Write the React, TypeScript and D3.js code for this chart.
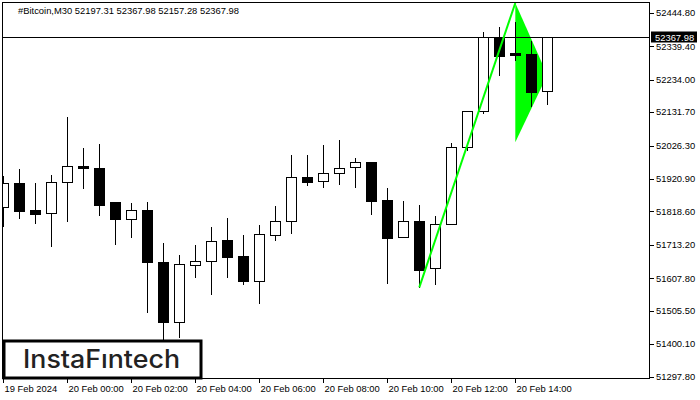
import React from 'react';
import * as d3 from 'd3';

// ---------- data ----------
const symbolLabel = '#Bitcoin,M30';
const startTime = Date.UTC(2024, 1, 19, 22, 0); // first visible 30-min bar
const barMinutes = 30;

const opens = [51831.6, 51908.3, 51823.1, 51814.6, 51910.5, 51961.9, 51955.6, 51848.4, 51795.7, 51823.1,
  51658.1, 51468.8, 51650.5, 51661.3, 51728.5, 51678.0, 51600.0, 51743.3, 51787.5, 51927.2,
  51915.6, 51938.9, 51957.8, 51974.6, 51854.7, 51737.0, 51788.4, 51639.2, 51777.9, 52020.9,
  52134.5, 52370.0, 52317.5, 52315.3, 52197.31];
const highs = [51933.5, 51955.6, 51912.4, 51936.7, 52119.7, 52021.9, 52034.5, 51848.4, 51848.4, 51852.5,
  51722.2, 51684.3, 51715.8, 51771.7, 51801.0, 51747.4, 51778.9, 51838.9, 52000.0, 52000.0,
  52031.3, 52047.1, 51990.3, 51977.7, 51895.7, 51854.7, 51842.0, 51807.3, 52037.7, 52139.6,
  52387.9, 52403.6, 52419.4, 52359.5, 52367.98];
const lows = [51773.6, 51798.8, 51783.0, 51710.5, 51789.3, 51893.5, 51808.3, 51716.8, 51738.9, 51500.4,
  51397.2, 51421.5, 51612.7, 51559.0, 51612.7, 51590.6, 51530.6, 51729.4, 51751.5, 51902.0,
  51896.6, 51906.1, 51896.6, 51811.4, 51593.7, 51737.0, 51579.2, 51590.6, 51777.9, 52013.4,
  52129.2, 52250.0, 52295.4, 52152.2, 52157.28];
const closes = [51907.4, 51820.9, 51811.4, 51911.5, 51961.9, 51955.6, 51839.8, 51795.7, 51823.1, 51660.0,
  51468.8, 51651.8, 51661.3, 51724.3, 51675.8, 51600.0, 51746.4, 51788.4, 51926.3, 51912.4,
  51939.9, 51954.7, 51973.6, 51852.5, 51735.7, 51788.4, 51634.8, 51777.9, 52020.9, 52135.4,
  52370.0, 52309.9, 52311.2, 52196.3, 52367.98];

const lastPrice = 52367.98;
const priceTicks = [52444.80, 52339.40, 52234.00, 52131.70, 52026.30, 51920.90, 51818.60, 51713.20,
  51607.80, 51505.50, 51400.10, 51297.80];
const timeTickLabels = ['19 Feb 2024', '20 Feb 00:00', '20 Feb 02:00', '20 Feb 04:00', '20 Feb 06:00',
  '20 Feb 08:00', '20 Feb 10:00', '20 Feb 12:00', '20 Feb 14:00'];
const timeTickBars = [0, 4, 8, 12, 16, 20, 24, 28, 32];

// bullish pennant: pole and flag (bar index, price)
const poleBars = [26, 32];
const polePrices = [51579.2, 52476.2];
const pennantBars = [32, 34, 32];
const pennantPrices = [52476.2, 52249.0, 52036.7];

const priceDomain = [51291.5, 52477.8];

// ---------- layout ----------
const W = 700;
const H = 400;
const L = 2.5, R = 649.5, T = 2.5, B = 378.5;
const FONT = '"Liberation Sans Narrow", "Liberation Sans", Arial, sans-serif';
const FS = 9.4;

const barTime = (i: number) => new Date(startTime + i * barMinutes * 60000);

export default function App() {
  const n = opens.length;
  const x = d3.scaleTime()
    .domain([barTime(0), barTime(n - 1)])
    .range([3.3, 3.3 + 16 * (n - 1)]);
  const y = d3.scaleLinear().domain(priceDomain).range([B, T]);

  const px = (i: number) => Math.floor(x(barTime(i))) + 0.5;
  const py = (p: number) => Math.round(y(p)) + 0.5;

  const line = d3.line<[number, number]>().x(d => d[0]).y(d => d[1]);
  const polePts: [number, number][] = poleBars.map((b, i) => [x(barTime(b)), y(polePrices[i])]);
  const pennantPts: [number, number][] = pennantBars.map((b, i) => [x(barTime(b)), y(pennantPrices[i])]);

  const candles = opens.map((o, i) => {
    const c = closes[i];
    const cx = px(i);
    const up = c >= o;
    const top = py(Math.max(o, c));
    const bot = py(Math.min(o, c));
    return (
      <g key={i}>
        <line x1={cx} x2={cx} y1={py(highs[i])} y2={py(lows[i])} stroke="#000" strokeWidth={1} />
        <rect x={cx - 5} y={top} width={10} height={Math.max(bot - top, 1)}
          fill={up ? '#fff' : '#000'} stroke="#000" strokeWidth={1} />
      </g>
    );
  });

  const lastY = py(lastPrice);

  return (
    <svg width={W} height={H} viewBox={`0 0 ${W} ${H}`}
      style={{ position: 'absolute', left: 0, top: 0, background: '#fff' }}
      fontFamily={FONT}>
      <defs>
        <clipPath id="plot">
          <rect x={L} y={T} width={R - L} height={B - T} />
        </clipPath>
      </defs>
      <rect x={0} y={0} width={W} height={H} fill="#fff" />

      <g clipPath="url(#plot)">
        <path d={line(pennantPts) + 'Z'} fill="#00ff00" stroke="none" />
        <g shapeRendering="crispEdges">{candles}</g>
        <line x1={L} x2={R} y1={lastY} y2={lastY} stroke="#000" strokeWidth={1} shapeRendering="crispEdges" />
        <path d={line(polePts) || ''} fill="none" stroke="#00ff00" strokeWidth={2} />
      </g>

      {/* frame */}
      <rect x={L} y={T} width={R - L} height={B - T} fill="none" stroke="#000" strokeWidth={1} shapeRendering="crispEdges" />

      {/* header */}
      <text x={18} y={14} fontSize={FS} fill="#000">
        {`${symbolLabel}  ${opens[n - 1].toFixed(2)} ${highs[n - 1].toFixed(2)} ${lows[n - 1].toFixed(2)} ${closes[n - 1].toFixed(2)}`}
      </text>

      {/* price axis */}
      <g shapeRendering="crispEdges">
        {priceTicks.map((p, i) => (
          <g key={i}>
            <line x1={R} x2={R + 4} y1={py(p)} y2={py(p)} stroke="#000" />
            <text x={656} y={y(p)} dy="0.35em" fontSize={FS} fill="#000">{p.toFixed(2)}</text>
          </g>
        ))}
      </g>
      <rect x={651} y={lastY - 6} width={46} height={11} fill="#000" />
      <text x={655} y={lastY} dy="0.35em" fontSize={FS} fill="#fff">{lastPrice.toFixed(2)}</text>

      {/* time axis */}
      <g shapeRendering="crispEdges">
        {timeTickBars.map((b, i) => (
          <g key={i}>
            <line x1={px(b)} x2={px(b)} y1={B} y2={B + 4} stroke="#000" />
            <text x={px(b) + 1} y={389} dy="0.35em" fontSize={FS} fill="#000">{timeTickLabels[i]}</text>
          </g>
        ))}
      </g>

      {/* logo */}
      <rect x={4} y={341} width={197} height={37} fill="#fff" stroke="#000" strokeWidth={3} />
      <text x={23} y={359} dy="0.35em" fontSize={25} fontWeight={500}
        fontFamily='Inter, "Noto Sans", sans-serif' fill="#222" textLength={157} lengthAdjust="spacingAndGlyphs">
        InstaFıntech
      </text>
    </svg>
  );
}
